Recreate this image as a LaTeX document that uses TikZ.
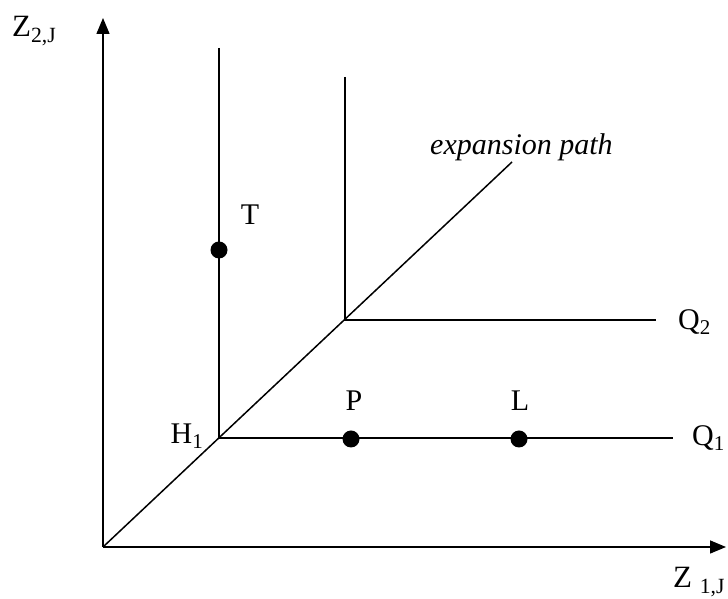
\documentclass[tikz,border=0pt]{standalone}
\usepackage{fontspec}
\setmainfont{Liberation Serif}
\usetikzlibrary{arrows.meta,positioning}

\begin{document}
\begin{tikzpicture}[x=1pt, y=1pt,
  axis/.style={line width=1.5pt, -{Triangle[length=16pt,width=13pt]}},
  isoline/.style={line width=1.5pt},
  dot/.style={circle, fill=black, inner sep=0pt, minimum size=17pt},
  lbl/.style={font=\fontsize{30}{36}\selectfont, inner sep=0pt},
  axlbl/.style={font=\fontsize{31}{37}\selectfont, inner sep=0pt}
]
  \useasboundingbox (0,0) rectangle (728,599);

  % axes
  \coordinate (O) at (103,52);
  \coordinate (ytop) at (103,581);
  \coordinate (xend) at (726,52);
  \draw[axis] (O) -- (ytop);
  \draw[axis] (O) -- (xend);
  \node[axlbl, anchor=west] (zy) at (12,568) {Z\textsubscript{2,J}};
  \node[axlbl, anchor=west] (zx) at (673,17) {Z \textsubscript{1,J}};

  % expansion path
  \coordinate (epend) at (512,437);
  \draw[isoline] (O) -- (epend);
  \node[lbl, anchor=west] (eplbl) at (430,452) {\itshape expansion path};

  % isoquants
  \coordinate (h1) at (219,161);
  \coordinate (h1top) at (219,551);
  \coordinate (q1end) at (673,161);
  \coordinate (c2) at (345,279);
  \coordinate (c2top) at (345,522);
  \coordinate (q2end) at (656,279);
  \draw[isoline] (h1top) -- (h1) -- (q1end);
  \draw[isoline] (c2top) -- (c2) -- (q2end);
  \node[lbl, anchor=west] (q1) at (692,161) {Q\textsubscript{1}};
  \node[lbl, anchor=west] (q2) at (678,277) {Q\textsubscript{2}};
  \node[lbl] (h1lbl) at (187,163) {H\textsubscript{1}};

  % input bundles
  \node[dot] (t) at (219,349) {};
  \node[dot] (p) at (351,160) {};
  \node[dot] (l) at (519,160) {};
  \node[lbl] (tlbl) at (250,384) {T};
  \node[lbl] (plbl) at (354,198) {P};
  \node[lbl] (llbl) at (520,198) {L};
\end{tikzpicture}
\end{document}
